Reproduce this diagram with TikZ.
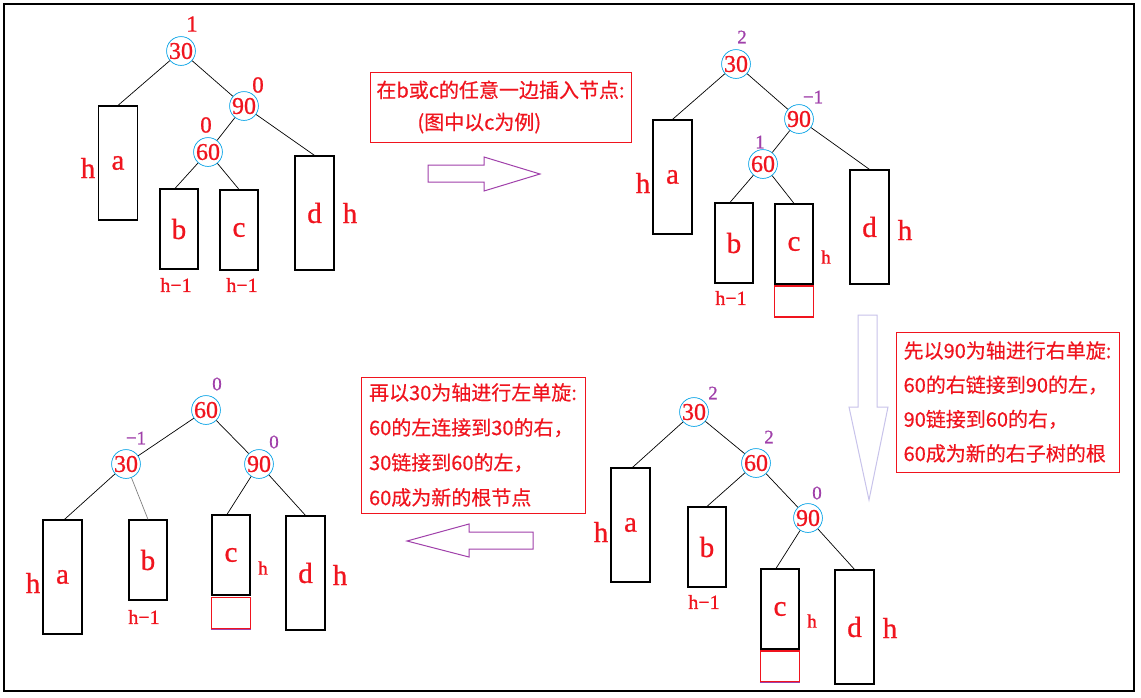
\documentclass[tikz,border=0pt]{standalone}
\usepackage{fontspec}
\setmainfont{Liberation Serif}
\newfontfamily\serifb{Liberation Serif}[FakeBold=0.8]
\newfontfamily\cjk{Noto Sans CJK SC}[FakeBold=0.4]
\definecolor{mred}{RGB}{240,20,30}
\definecolor{mpurple}{RGB}{160,64,170}
\definecolor{ccyan}{RGB}{0,160,230}
\definecolor{lav}{RGB}{200,195,235}
\tikzset{
  vnode/.style={circle, draw=ccyan, line width=0.7pt, inner sep=0pt, minimum size=28pt, text=mred, font=\serifb\fontsize{24}{24}\selectfont},
  subt/.style={rectangle, draw=black, line width=1.2pt, inner sep=0pt, text=mred, font=\serifb\fontsize{29}{29}\selectfont},
  tbox/.style={subt, minimum width=39pt, minimum height=114pt},
  sbox/.style={subt, minimum width=38pt, minimum height=80pt},
  newbox/.style={rectangle, draw=mred, line width=1.2pt, minimum width=39pt, minimum height=31pt, inner sep=0pt},
  bigh/.style={text=mred, font=\serifb\fontsize{29}{29}\selectfont, inner sep=0pt},
  smallh/.style={text=mred, font=\serifb\fontsize{19}{19}\selectfont, inner sep=0pt},
  hm/.style={text=mred, font=\serifb\fontsize{20}{20}\selectfont, inner sep=0pt},
  balr/.style={text=mred, font=\serifb\fontsize{23}{23}\selectfont, inner sep=0pt},
  balp/.style={text=mpurple, font=\serifb\fontsize{19}{19}\selectfont, inner sep=0pt},
  link/.style={draw=black, line width=0.7pt},
  notebox/.style={draw=mred, line width=1pt, text=mred, align=left, inner sep=0pt},
  arr/.style={draw=mpurple, line width=1pt},
}
\begin{document}
\begin{tikzpicture}[x=1pt,y=-1pt]
\useasboundingbox (0,0) rectangle (1141,697);
\fill[white] (0,0) rectangle (1141,697);
\draw[line width=1.5pt] (4,4) rectangle (1134,691);

% ---------- Tree 1 ----------
\node[vnode] (t1n30) at (181,51) {30};
\node[vnode] (t1n90) at (244,106) {90};
\node[vnode] (t1n60) at (208,152) {60};
\node[balr] (t1b30) at (192,24) {1};
\node[balr] (t1b90) at (258,85) {0};
\node[balr] (t1b60) at (206,125) {0};
\node[tbox] (t1a) at (118,163) {a};
\node[sbox] (t1b) at (179,229) {b};
\node[sbox] (t1c) at (239,230) {c};
\node[tbox] (t1d) at (314.5,213) {d};
\node[bigh] (t1ha) at (88,168) {h};
\node[bigh] (t1hd) at (350,213) {h};
\node[hm] (t1hb) at (176,285) {h−1};
\node[hm] (t1hc) at (242,285) {h−1};
\draw[link] (t1n30) -- (t1a.north);
\draw[link] (t1n30) -- (t1n90);
\draw[link] (t1n90) -- (t1n60);
\draw[link] (t1n90) -- (t1d.north);
\draw[link] (t1n60) -- ([xshift=-4pt]t1b.north);
\draw[link] (t1n60) -- (t1c.north);

% ---------- note 1 and right arrow ----------
\node[notebox, minimum width=261pt, minimum height=70pt, font=\cjk\fontsize{20}{32}\selectfont] (note1) at (500.5,107)
  {在b或c的任意一边插入节点:\\\hspace*{41pt}(图中以c为例)};
\draw[arr] (428,165) -- (484,165) -- (484,157) -- (540,174) -- (484,191) -- (484,182) -- (428,182) -- cycle;

% ---------- Tree 2 ----------
\node[vnode] (t2n30) at (736,64) {30};
\node[vnode] (t2n90) at (799,119) {90};
\node[vnode] (t2n60) at (763,164) {60};
\node[balp] (t2b30) at (742,37) {2};
\node[balp] (t2b90) at (813,97) {−1};
\node[balp] (t2b60) at (760,142) {1};
\node[tbox] (t2a) at (672.5,177) {a};
\node[sbox] (t2b) at (734,243) {b};
\node[sbox] (t2c) at (794,244) {c};
\node[newbox] (t2new) at (794,301.5) {};
\node[tbox] (t2d) at (869.5,227) {d};
\node[bigh] (t2ha) at (643,183) {h};
\node[hm] (t2hb) at (731,298) {h−1};
\node[smallh] (t2hc) at (826,257) {h};
\node[bigh] (t2hd) at (905,230) {h};
\draw[link] (t2n30) -- (t2a.north);
\draw[link] (t2n30) -- (t2n90);
\draw[link] (t2n90) -- (t2n60);
\draw[link] (t2n90) -- (t2d.north);
\draw[link] (t2n60) -- ([xshift=-4pt]t2b.north);
\draw[link] (t2n60) -- (t2c.north);

% ---------- down arrow and note 2 ----------
\draw[draw=lav, line width=1pt] (858,315) -- (877,315) -- (877,407) -- (888,407) -- (869,500) -- (849,407) -- (858,407) -- cycle;
\node[notebox, minimum width=223pt, minimum height=140pt, font=\cjk\fontsize{20}{34.3}\selectfont] (note2) at (1007.5,402)
  {先以90为轴进行右单旋:\\60的右链接到90的左，\\90链接到60的右，\\60成为新的右子树的根};

% ---------- Tree 3 ----------
\node[vnode] (t3n30) at (694,412) {30};
\node[vnode] (t3n60) at (756,463) {60};
\node[vnode] (t3n90) at (808,518) {90};
\node[balp] (t3b30) at (713,393) {2};
\node[balp] (t3b60) at (769,437) {2};
\node[balp] (t3b90) at (817,493) {0};
\node[tbox] (t3a) at (630.5,525) {a};
\node[sbox] (t3b) at (707,547) {b};
\node[sbox] (t3c) at (780,609) {c};
\node[newbox] (t3new) at (780,666.5) {};
\node[tbox] (t3d) at (854.5,627) {d};
\node[bigh] (t3ha) at (601,532) {h};
\node[hm] (t3hb) at (704,602) {h−1};
\node[smallh] (t3hc) at (812,621) {h};
\node[bigh] (t3hd) at (890,628) {h};
\draw[mpurple, line width=1.2pt] (t3new.south west) -- (t3new.south east);
\draw[link] (t3n30) -- ([xshift=2pt]t3a.north);
\draw[link] (t3n30) -- (t3n60);
\draw[link] (t3n60) -- (t3b.north);
\draw[link] (t3n60) -- (t3n90);
\draw[link] (t3n90) -- ([xshift=-4pt]t3c.north);
\draw[link] (t3n90) -- (t3d.north);

% ---------- left arrow and note 3 ----------
\draw[arr] (533,532) -- (469,532) -- (469,524) -- (407,541) -- (469,557) -- (469,549) -- (533,549) -- cycle;
\node[notebox, minimum width=224pt, minimum height=136pt, font=\cjk\fontsize{20}{35}\selectfont] (note3) at (473,445)
  {再以30为轴进行左单旋:\\60的左连接到30的右，\\30链接到60的左，\\60成为新的根节点};

% ---------- Tree 4 ----------
\node[vnode] (t4n60) at (206,410) {60};
\node[vnode] (t4n30) at (126,464) {30};
\node[vnode] (t4n90) at (259,464) {90};
\node[balp] (t4b60) at (217,384) {0};
\node[balp] (t4b30) at (136,438) {−1};
\node[balp] (t4b90) at (274,442) {0};
\node[tbox] (t4a) at (62.5,577) {a};
\node[sbox] (t4b) at (148,560) {b};
\node[sbox] (t4c) at (231,555) {c};
\node[newbox] (t4new) at (231,613) {};
\node[tbox] (t4d) at (305.5,573) {d};
\node[bigh] (t4ha) at (33,583) {h};
\node[hm] (t4hb) at (144,617) {h−1};
\node[smallh] (t4hc) at (263,568) {h};
\node[bigh] (t4hd) at (340,575) {h};
\draw[mpurple, line width=1.2pt] (t4new.south west) -- (t4new.south east);
\draw[link] (t4n60) -- (t4n30);
\draw[link] (t4n60) -- (t4n90);
\draw[link] (t4n30) -- ([xshift=2pt]t4a.north);
\draw[link, draw=gray] (t4n30) -- (t4b.north);
\draw[link] (t4n90) -- ([xshift=-4pt]t4c.north);
\draw[link] (t4n90) -- (t4d.north);
\end{tikzpicture}
\end{document}
